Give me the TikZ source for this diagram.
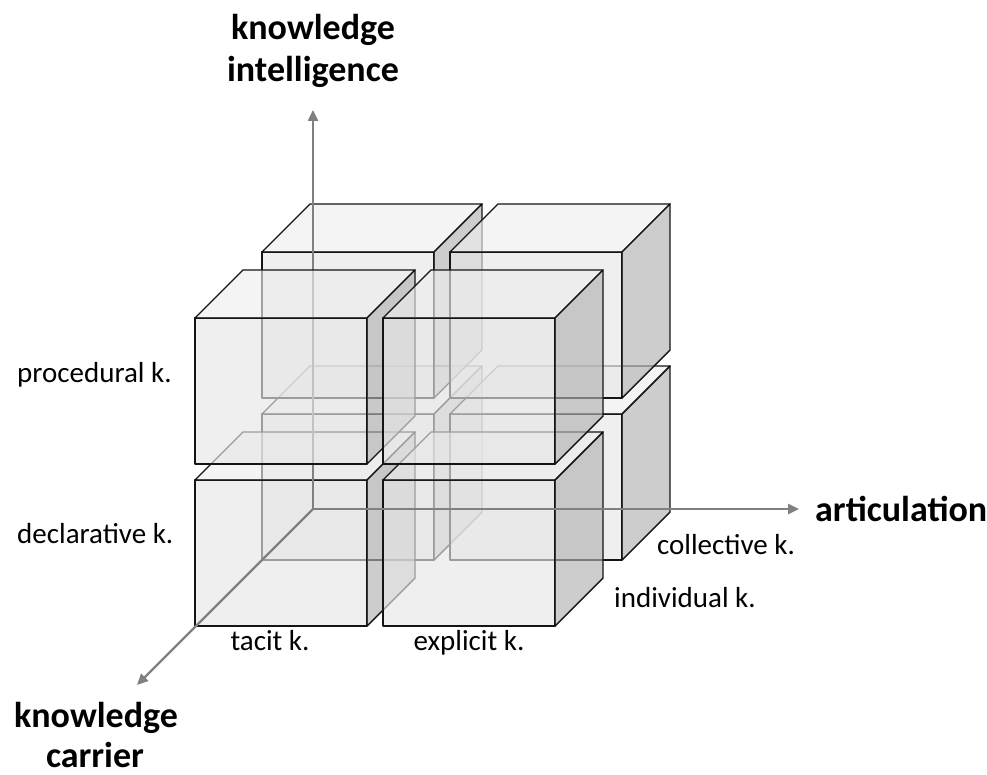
\documentclass[tikz,border=0pt]{standalone}
\usepackage{fontspec}
\setmainfont{Carlito}
\usetikzlibrary{arrows.meta}

\definecolor{frontgray}{RGB}{230,230,230}
\definecolor{topgray}{RGB}{238,238,238}
\definecolor{sidegray}{RGB}{178,178,178}
\definecolor{axisgray}{RGB}{128,128,128}

\begin{document}
\begin{tikzpicture}[x=1pt,y=-1pt,
  edge/.style={draw=black!92, line width=1.4pt, line join=round},
  facefront/.style={edge, fill=frontgray, fill opacity=0.65},
  facetop/.style={edge, fill=topgray, fill opacity=0.65},
  faceside/.style={edge, fill=sidegray, fill opacity=0.65},
  axis/.style={draw=axisgray, line width=2.4pt,
    -{Triangle[length=11pt,width=10pt]}},
  lab/.style={inner sep=0pt, anchor=base, font=\fontsize{29}{34}\selectfont},
  axtitle/.style={inner sep=0pt, anchor=base,
    font=\fontsize{36}{43}\selectfont\bfseries},
  % one box: front face 172 x 146, receding by 48 up and right
  kbox/.pic={
    \path[facefront] (0,0) rectangle (172,146);
    \path[facetop] (0,0) -- (48,-48) -- (220,-48) -- (172,0) -- cycle;
    \path[faceside] (172,0) -- (220,-48) -- (220,98) -- (172,146) -- cycle;
  }
]
\useasboundingbox (0,0) rectangle (987,775);

% back layer
\pic at (262,414) {kbox};
\pic at (450,414) {kbox};
\pic at (262,252) {kbox};
\pic at (450,252) {kbox};

% front layer, lower row
\pic at (195,480) {kbox};
\pic at (383,480) {kbox};

% axes
\coordinate (O) at (313,509);
\coordinate (up) at (313,110);
\coordinate (right) at (799,509);
\coordinate (down) at (137,685);
\draw[axis] (O) -- (up);
\draw[axis] (O) -- (right);
\draw[axis] (O) -- (down);

% front layer, upper row
\pic at (195,318) {kbox};
\pic at (383,318) {kbox};

% labels
\node[lab, anchor=base west] (proc) at (17,382) {procedural k.};
\node[lab, anchor=base west] (decl) at (17,543) {declarative k.};
\node[lab] (tacit) at (270,650) {tacit k.};
\node[lab] (expl) at (469,650) {explicit k.};
\node[lab] (indiv) at (685,607) {individual k.};
\node[lab] (coll) at (726,554) {collective k.};
\node[axtitle, anchor=base west] (artic) at (815,521) {articulation};
\node[axtitle] (intelA) at (313,40) {knowledge};
\node[axtitle] (intelB) at (313,82) {intelligence};
\node[axtitle] (carrA) at (96,727) {knowledge};
\node[axtitle] (carrB) at (95,767) {carrier};
\end{tikzpicture}
\end{document}
